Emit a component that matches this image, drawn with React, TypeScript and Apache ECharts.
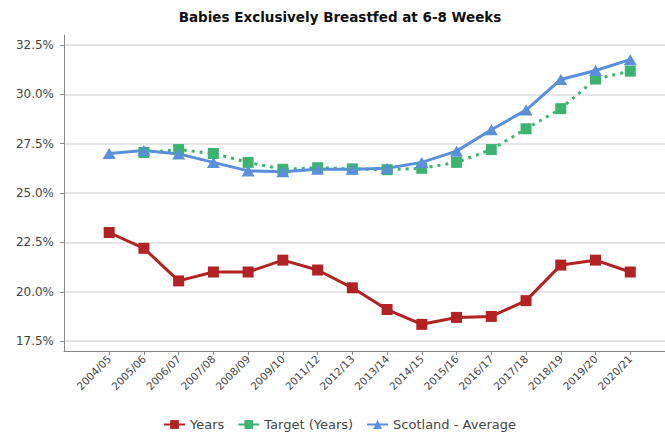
import React, { useEffect, useRef } from "react";
import * as echarts from "echarts";

const categories = [
  "2004/05", "2005/06", "2006/07", "2007/08", "2008/09", "2009/10", "2011/12", "2012/13",
  "2013/14", "2014/15", "2015/16", "2016/17", "2017/18", "2018/19", "2019/20", "2020/21",
];
const years = [23.0, 22.2, 20.55, 21.0, 21.0, 21.6, 21.1, 20.2, 19.1, 18.35, 18.7, 18.75, 19.55, 21.35, 21.6, 21.0];
const target = [null, 27.05, 27.2, 27.0, 26.55, 26.2, 26.28, 26.22, 26.18, 26.25, 26.55, 27.2, 28.25, 29.27, 30.77, 31.17];
const scotland = [27.0, 27.15, 26.98, 26.55, 26.12, 26.07, 26.2, 26.2, 26.25, 26.55, 27.12, 28.2, 29.2, 30.75, 31.2, 31.75];
const yTicks = [17.5, 20, 22.5, 25, 27.5, 30, 32.5];

const FONT = "DejaVu Sans";

function toPairs(arr: (number | null)[]) {
  return arr.map((v, i) => [i, v]);
}

export default function App() {
  const ref = useRef<HTMLDivElement>(null);
  useEffect(() => {
    if (!ref.current) return;
    const chart = echarts.init(ref.current, undefined, { renderer: "svg" });
    const idx = categories.map((_, i) => i);
    chart.setOption({
      animation: false,
      backgroundColor: "#ffffff",
      textStyle: { fontFamily: FONT },
      title: {
        text: "Babies Exclusively Breastfed at 6-8 Weeks",
        left: 340,
        textAlign: "center",
        top: 10,
        padding: 0,
        textStyle: { fontFamily: FONT, fontSize: 13.5, fontWeight: "bold", color: "#111" },
      },
      legend: {
        bottom: 1,
        padding: 0,
        left: 163,
        width: 480,
        itemWidth: 21,
        itemHeight: 11,
        itemGap: 13,
        textStyle: { fontFamily: FONT, fontSize: 13, color: "#444" },
        lineStyle: { type: "solid", width: 2 },
        data: ["Years", "Target (Years)", "Scotland - Average"],
      },
      grid: { left: 64, right: 0, top: 35, bottom: 81 },
      xAxis: {
        type: "value",
        min: -1.3,
        max: 16,
        axisLine: { show: true, onZero: false, lineStyle: { color: "#888", width: 1 } },
        axisTick: { show: true, length: 4, customValues: idx, lineStyle: { color: "#888" } },
        splitLine: { show: false },
        axisLabel: {
          customValues: idx,
          rotate: 45,
          fontSize: 10.5,
          color: "#444",
          margin: 6,
          fontFamily: FONT,
          formatter: (v: number) => categories[Math.round(v)] ?? "",
        },
      },
      yAxis: {
        type: "value",
        min: 17,
        max: 33,
        axisLine: { show: true, onZero: false, lineStyle: { color: "#888", width: 1 } },
        axisTick: { show: true, length: 4, customValues: yTicks, lineStyle: { color: "#888" } },
        splitLine: { show: true, lineStyle: { color: "#dedede", width: 1.5 } },
        axisLabel: {
          customValues: yTicks,
          fontSize: 12,
          color: "#444",
          margin: 10,
          fontFamily: FONT,
          formatter: (v: number) => v.toFixed(1) + "%",
        },
      },
      series: [
        {
          name: "Years",
          type: "line",
          data: toPairs(years),
          symbol: "rect",
          symbolSize: 11,
          color: "#b22222",
          lineStyle: { color: "#b22222", width: 3 },
          itemStyle: { color: "#b22222" },
        },
        {
          name: "Target (Years)",
          type: "line",
          data: toPairs(target),
          symbol: "rect",
          symbolSize: 11,
          color: "#3cb371",
          lineStyle: { color: "#3cb371", width: 3, type: [3, 5] },
          itemStyle: { color: "#3cb371" },
        },
        {
          name: "Scotland - Average",
          type: "line",
          data: toPairs(scotland),
          symbol: "triangle",
          symbolSize: [13, 11],
          color: "#5a8fdb",
          lineStyle: { color: "#5a8fdb", width: 3 },
          itemStyle: { color: "#5a8fdb" },
        },
      ],
    });
    return () => chart.dispose();
  }, []);
  return (
    <div
      ref={ref}
      style={{ position: "absolute", left: 0, top: 0, width: 665, height: 432 }}
    />
  );
}
